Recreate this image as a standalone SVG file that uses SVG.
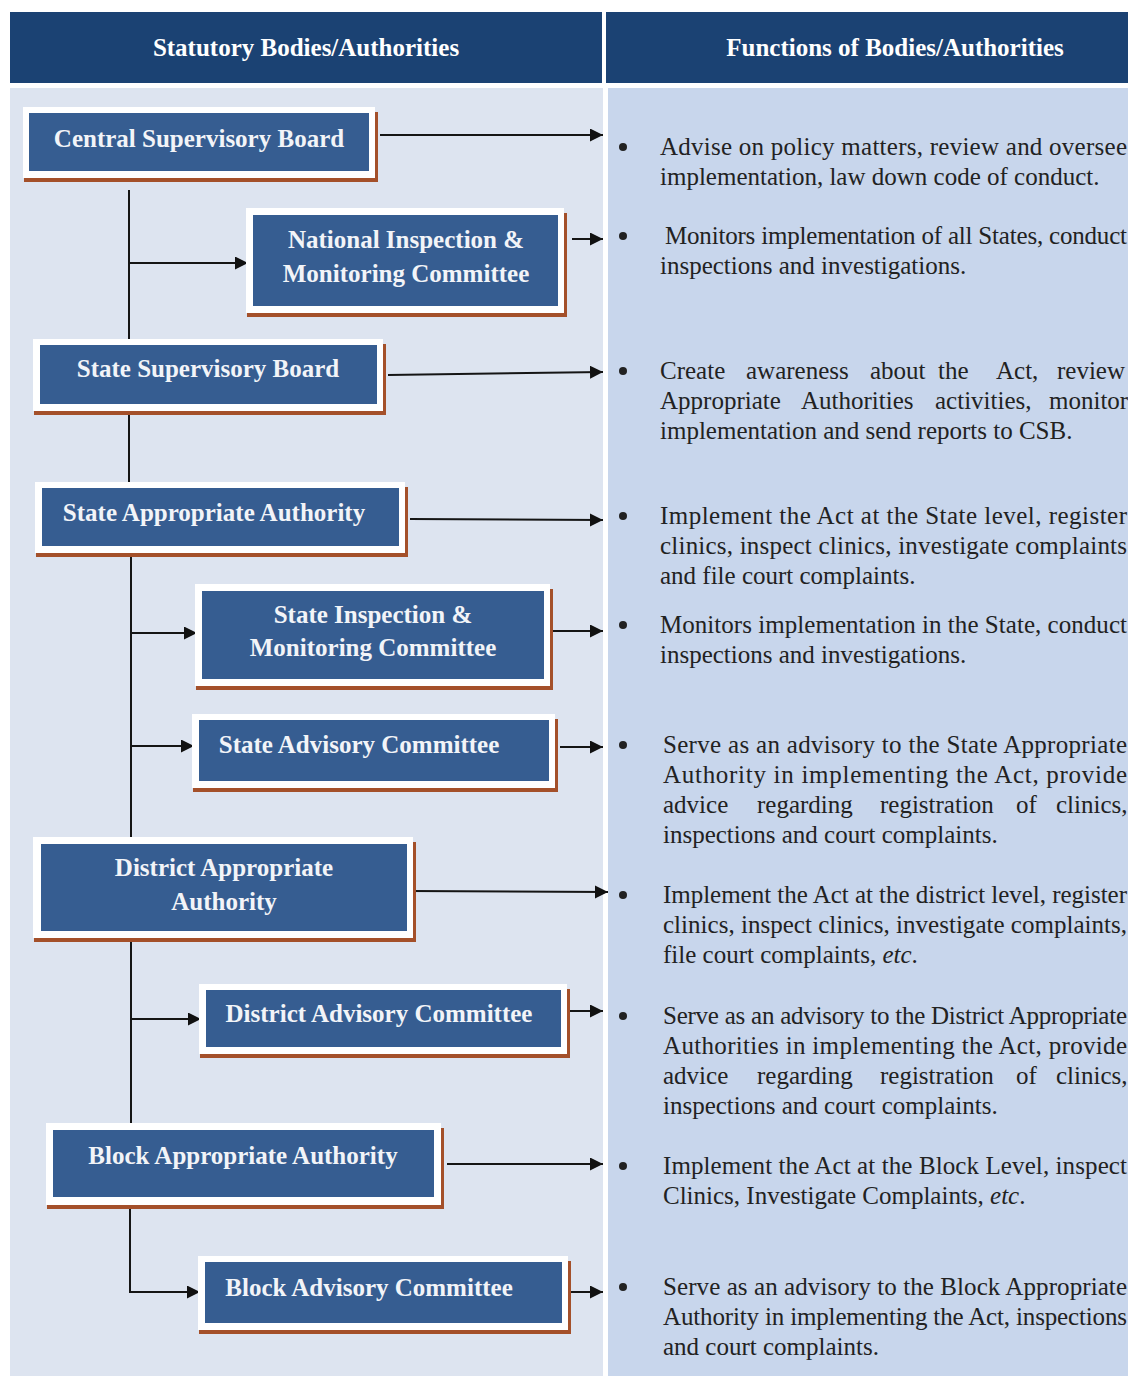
<svg xmlns="http://www.w3.org/2000/svg" width="1128" height="1376" viewBox="0 0 1128 1376">
<defs>
<style>
.hdr{fill:#1b4273}
.hdrt{font-family:"Liberation Serif","Times New Roman",serif;font-weight:bold;font-size:25px;fill:#fff;text-anchor:middle}
.sh{fill:#a4502a}
.outer{fill:#ffffff}
.inner{fill:#365d91}
.nt{font-family:"Liberation Serif","Times New Roman",serif;font-weight:bold;font-size:25px;fill:#f2f4f8;text-anchor:middle}
.conn{stroke:#151515;stroke-width:2;fill:none}
.bt{font-family:"Liberation Serif","Times New Roman",serif;font-size:25px;fill:#222}
.bul{fill:#222}
</style>
<marker id="ah" markerUnits="userSpaceOnUse" markerWidth="14" markerHeight="14" refX="13" refY="6.5" orient="auto">
<path d="M0,0 L13,6.5 L0,13 z" fill="#111"/>
</marker>
</defs>
<rect x="0" y="0" width="1128" height="1376" fill="#ffffff"/>
<g id="headers">
<rect class="hdr" x="10" y="12" width="592" height="71"/>
<rect class="hdr" x="606" y="12" width="522" height="71"/>
<text class="hdrt" x="306" y="56">Statutory Bodies/Authorities</text>
<text class="hdrt" x="895" y="56">Functions of Bodies/Authorities</text>
</g>
<g id="panels">
<rect x="10" y="88" width="593" height="1288" fill="#dde4f0"/>
<rect x="608" y="88" width="520" height="1288" fill="#c8d6ec"/>
</g>

<g id="connectors">
<path class="conn" d="M129,190 V340"/>
<path class="conn" d="M129,263 H248" marker-end="url(#ah)"/>
<path class="conn" d="M129,412 V482"/>
<path class="conn" d="M131,554 V837"/>
<path class="conn" d="M131,633 H197" marker-end="url(#ah)"/>
<path class="conn" d="M131,746 H194" marker-end="url(#ah)"/>
<path class="conn" d="M131,941 V1123"/>
<path class="conn" d="M131,1019 H201" marker-end="url(#ah)"/>
<path class="conn" d="M130,1206 V1292 H200" marker-end="url(#ah)"/>
<path class="conn" d="M380,135 H603" marker-end="url(#ah)"/>
<path class="conn" d="M572,239 H603" marker-end="url(#ah)"/>
<path class="conn" d="M388,375 L603,372" marker-end="url(#ah)"/>
<path class="conn" d="M410,519 L603,520" marker-end="url(#ah)"/>
<path class="conn" d="M553,631 H603" marker-end="url(#ah)"/>
<path class="conn" d="M560,747 H603" marker-end="url(#ah)"/>
<path class="conn" d="M410,891 L608,892" marker-end="url(#ah)"/>
<path class="conn" d="M568,1011 H603" marker-end="url(#ah)"/>
<path class="conn" d="M447,1164 H603" marker-end="url(#ah)"/>
<path class="conn" d="M570,1292 H603" marker-end="url(#ah)"/>
</g>

<g id="csb">
<rect class="sh" x="24" y="112" width="354" height="70"/>
<rect class="outer" x="23" y="107" width="352" height="71"/>
<rect class="inner" x="29" y="113" width="340" height="58"/>
<text class="nt" x="199" y="147">Central Supervisory Board</text>
</g>
<g id="nimc">
<rect class="sh" x="247" y="213" width="320" height="104"/>
<rect class="outer" x="246" y="208" width="318" height="105"/>
<rect class="inner" x="253" y="215" width="305" height="91"/>
<text class="nt" x="406" y="248">National Inspection &amp;</text>
<text class="nt" x="406" y="282">Monitoring Committee</text>
</g>
<g id="ssb">
<rect class="sh" x="34" y="344" width="352" height="71"/>
<rect class="outer" x="33" y="339" width="350" height="72"/>
<rect class="inner" x="40" y="345" width="337" height="59"/>
<text class="nt" x="208" y="377">State Supervisory Board</text>
</g>
<g id="saa">
<rect class="sh" x="36" y="487" width="372" height="70"/>
<rect class="outer" x="35" y="482" width="370" height="71"/>
<rect class="inner" x="42" y="488" width="357" height="58"/>
<text class="nt" x="214" y="521">State Appropriate Authority</text>
</g>
<g id="simc">
<rect class="sh" x="196" y="589" width="357" height="101"/>
<rect class="outer" x="195" y="584" width="355" height="102"/>
<rect class="inner" x="202" y="591" width="342" height="88"/>
<text class="nt" x="373" y="623">State Inspection &amp;</text>
<text class="nt" x="373" y="656">Monitoring Committee</text>
</g>
<g id="sac">
<rect class="sh" x="193" y="719" width="365" height="73"/>
<rect class="outer" x="192" y="714" width="363" height="74"/>
<rect class="inner" x="199" y="720" width="350" height="61"/>
<text class="nt" x="359" y="753">State Advisory Committee</text>
</g>
<g id="daa">
<rect class="sh" x="34" y="842" width="382" height="100"/>
<rect class="outer" x="33" y="837" width="380" height="101"/>
<rect class="inner" x="41" y="844" width="366" height="87"/>
<text class="nt" x="224" y="876">District Appropriate</text>
<text class="nt" x="224" y="910">Authority</text>
</g>
<g id="dac">
<rect class="sh" x="200" y="989" width="370" height="69"/>
<rect class="outer" x="199" y="984" width="368" height="70"/>
<rect class="inner" x="206" y="990" width="355" height="57"/>
<text class="nt" x="379" y="1022">District Advisory Committee</text>
</g>
<g id="baa">
<rect class="sh" x="47" y="1128" width="397" height="81"/>
<rect class="outer" x="46" y="1123" width="395" height="82"/>
<rect class="inner" x="53" y="1130" width="381" height="67"/>
<text class="nt" x="243" y="1164">Block Appropriate Authority</text>
</g>
<g id="bac">
<rect class="sh" x="199" y="1261" width="372" height="73"/>
<rect class="outer" x="198" y="1256" width="370" height="74"/>
<rect class="inner" x="205" y="1262" width="357" height="61"/>
<text class="nt" x="369" y="1296">Block Advisory Committee</text>
</g>

<g id="functions">
<circle class="bul" cx="623" cy="147" r="4"/>
<text class="bt" x="660" y="155" textLength="467" lengthAdjust="spacing">Advise on policy matters, review and oversee</text>
<text class="bt" x="660" y="185">implementation, law down code of conduct.</text>

<circle class="bul" cx="623" cy="236" r="4"/>
<text class="bt" x="665" y="244" textLength="462" lengthAdjust="spacing">Monitors implementation of all States, conduct</text>
<text class="bt" x="660" y="274">inspections and investigations.</text>

<circle class="bul" cx="623" cy="371" r="4"/>
<text class="bt" y="379"><tspan x="660">Create</tspan><tspan x="746">awareness</tspan><tspan x="870">about</tspan><tspan x="938">the</tspan><tspan x="996">Act,</tspan><tspan x="1057">review</tspan></text>
<text class="bt" y="409"><tspan x="660">Appropriate</tspan><tspan x="801">Authorities</tspan><tspan x="935">activities,</tspan><tspan x="1049">monitor</tspan></text>
<text class="bt" x="660" y="439">implementation and send reports to CSB.</text>

<circle class="bul" cx="623" cy="516" r="4"/>
<text class="bt" x="660" y="524" textLength="467" lengthAdjust="spacing">Implement the Act at the State level, register</text>
<text class="bt" x="660" y="554" textLength="467" lengthAdjust="spacing">clinics, inspect clinics, investigate complaints</text>
<text class="bt" x="660" y="584">and file court complaints.</text>

<circle class="bul" cx="623" cy="625" r="4"/>
<text class="bt" x="660" y="633" textLength="467" lengthAdjust="spacing">Monitors implementation in the State, conduct</text>
<text class="bt" x="660" y="663">inspections and investigations.</text>

<circle class="bul" cx="623" cy="745" r="4"/>
<text class="bt" x="663" y="753" textLength="464" lengthAdjust="spacing">Serve as an advisory to the State Appropriate</text>
<text class="bt" x="663" y="783" textLength="464" lengthAdjust="spacing">Authority in implementing the Act, provide</text>
<text class="bt" y="813"><tspan x="663">advice</tspan><tspan x="757">regarding</tspan><tspan x="880">registration</tspan><tspan x="1016">of</tspan><tspan x="1056">clinics,</tspan></text>
<text class="bt" x="663" y="843">inspections and court complaints.</text>

<circle class="bul" cx="623" cy="895" r="4"/>
<text class="bt" x="663" y="903" textLength="464" lengthAdjust="spacing">Implement the Act at the district level, register</text>
<text class="bt" x="663" y="933" textLength="464" lengthAdjust="spacing">clinics, inspect clinics, investigate complaints,</text>
<text class="bt" x="663" y="963">file court complaints, <tspan font-style="italic">etc</tspan>.</text>

<circle class="bul" cx="623" cy="1016" r="4"/>
<text class="bt" x="663" y="1024" textLength="464" lengthAdjust="spacing">Serve as an advisory to the District Appropriate</text>
<text class="bt" x="663" y="1054" textLength="464" lengthAdjust="spacing">Authorities in implementing the Act, provide</text>
<text class="bt" y="1084"><tspan x="663">advice</tspan><tspan x="757">regarding</tspan><tspan x="880">registration</tspan><tspan x="1016">of</tspan><tspan x="1056">clinics,</tspan></text>
<text class="bt" x="663" y="1114">inspections and court complaints.</text>

<circle class="bul" cx="623" cy="1166" r="4"/>
<text class="bt" x="663" y="1174" textLength="464" lengthAdjust="spacing">Implement the Act at the Block Level, inspect</text>
<text class="bt" x="663" y="1204">Clinics, Investigate Complaints, <tspan font-style="italic">etc</tspan>.</text>

<circle class="bul" cx="623" cy="1287" r="4"/>
<text class="bt" x="663" y="1295" textLength="464" lengthAdjust="spacing">Serve as an advisory to the Block Appropriate</text>
<text class="bt" x="663" y="1325" textLength="464" lengthAdjust="spacing">Authority in implementing the Act, inspections</text>
<text class="bt" x="663" y="1355">and court complaints.</text>
</g>
</svg>
